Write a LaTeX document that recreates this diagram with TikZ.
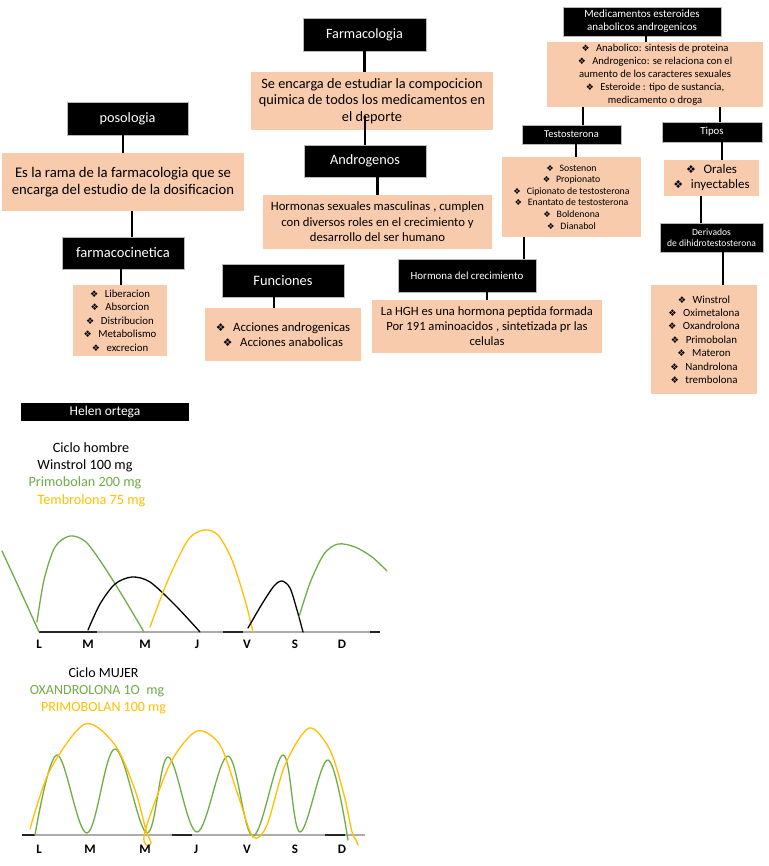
\documentclass[tikz,border=0pt]{standalone}
\usepackage{fontspec}
\setmainfont{Carlito}
\newfontfamily\symfont{DejaVu Sans}
\newcommand{\bulx}{\scalebox{0.85}{\symfont ❖}\hspace{0.6em}}
\definecolor{peach}{HTML}{F8CBAD}
\definecolor{grn}{HTML}{70AD47}
\definecolor{ylw}{HTML}{FFC000}
\newcommand{\fs}[2]{\fontsize{#1}{#2}\selectfont}
\tikzset{
  blk/.style={fill=black, draw=gray!55, line width=0.6pt, text=white, inner sep=0pt, align=center},
  pch/.style={fill=peach, inner sep=0pt, align=center},
  conn/.style={line width=2.2pt, black},
  lbl/.style={inner sep=0pt, align=center},
  axl/.style={inner sep=0pt, font=\fs{13}{14}\bfseries},
  curve/.style={line width=1.3pt, line cap=round},
  axis/.style={line width=1.2pt, gray!65},
  axisdark/.style={line width=1.2pt, gray!30!black},
}
\begin{document}
\begin{tikzpicture}[x=1pt, y=-1pt]
\useasboundingbox[fill=white] (0,0) rectangle (768,866);

% ---------- Farmacologia branch ----------
\node[blk, minimum width=123pt, minimum height=33pt, font=\fs{14.2}{15}] (farm) at (364.5,34.5) {Farmacologia};
\node[pch, minimum width=242pt, minimum height=58pt, font=\fs{14.3}{16.5}] (farmdesc) at (372,101)
  {Se encarga de estudiar la compocicion\\quimica de todos los medicamentos en\\el deporte};
\node[blk, minimum width=122pt, minimum height=32pt, font=\fs{14.3}{15}] (andro) at (365,161) {Androgenos};
\node[pch, minimum width=229pt, minimum height=54pt, font=\fs{12.7}{15.5}] (andrdesc) at (377.5,222)
  {Hormonas sexuales masculinas , cumplen\\con diversos roles en el crecimiento y\\desarrollo del ser humano};
\node[blk, minimum width=122pt, minimum height=33pt, font=\fs{14.4}{15}] (func) at (283,280.5) {Funciones};
\node[pch, minimum width=156pt, minimum height=53pt, font=\fs{12.7}{15}] (funcdesc) at (283,334.5)
  {\bulx Acciones androgenicas\\\bulx Acciones anabolicas};
\node[blk, minimum width=138pt, minimum height=33pt, font=\fs{10.9}{12}] (horm) at (467,275.5) {Hormona del crecimiento};
\node[pch, minimum width=230pt, minimum height=53pt, font=\fs{12.6}{15}] (hghdesc) at (487,326.5)
  {La HGH es una hormona peptida formada\\Por 191 aminoacidos , sintetizada pr las\\celulas};

% ---------- Medicamentos branch ----------
\node[blk, minimum width=158pt, minimum height=29pt, font=\fs{11}{13}] (med) at (642,21.5)
  {Medicamentos esteroides\\anabolicos androgenicos};
\node[pch, minimum width=216pt, minimum height=65pt, font=\fs{10.6}{13}] (meddesc) at (655,74.5)
  {\bulx Anabolico: sintesis de proteina\\\bulx Androgenico: se relaciona con el\\aumento de los caracteres sexuales\\\bulx Esteroide : tipo de sustancia,\\medicamento o droga};
\node[blk, minimum width=99pt, minimum height=19pt, font=\fs{10.5}{11}] (testo) at (571.5,134.5) {Testosterona};
\node[pch, minimum width=139pt, minimum height=80pt, font=\fs{9.8}{11.6}] (testodesc) at (571.5,197)
  {\bulx Sostenon\\\bulx Propionato\\\bulx Cipionato de testosterona\\\bulx Enantato de testosterona\\\bulx Boldenona\\\bulx Dianabol};
\node[blk, minimum width=100pt, minimum height=20pt, font=\fs{10.8}{11}] (tipos) at (712,132) {Tipos};
\node[pch, minimum width=95pt, minimum height=36pt, font=\fs{12.9}{15}] (tiposdesc) at (711.5,178)
  {\bulx Orales\\\bulx inyectables};
\node[blk, minimum width=103pt, minimum height=29pt, font=\fs{9.6}{11}] (deriv) at (711.5,237.5)
  {Derivados\\de dihidrotestosterona};
\node[pch, minimum width=106pt, minimum height=109pt, font=\fs{10.9}{13.4}] (derivdesc) at (704,339.5)
  {\bulx Winstrol\\\bulx Oximetalona\\\bulx Oxandrolona\\\bulx Primobolan\\\bulx Materon\\\bulx Nandrolona\\\bulx trembolona};

% ---------- Posologia branch ----------
\node[blk, minimum width=121pt, minimum height=33pt, font=\fs{14.3}{15}] (poso) at (127.5,118.5) {posologia};
\node[pch, minimum width=242pt, minimum height=58pt, font=\fs{14.7}{17}] (posodesc) at (123,182)
  {Es la rama de la farmacologia que se\\encarga del estudio de la dosificacion};
\node[blk, minimum width=122pt, minimum height=32pt, font=\fs{14.5}{15}] (farmaco) at (123,253) {farmacocinetica};
\node[pch, minimum width=94pt, minimum height=71pt, font=\fs{10.8}{13.4}] (farmacodesc) at (120,320.5)
  {\bulx Liberacion\\\bulx Absorcion\\\bulx Distribucion\\\bulx Metabolismo\\\bulx excrecion};

% ---------- connectors ----------
\draw[conn] (farm.south) -- (farm.south |- farmdesc.north);
\draw[conn] (andro.north) -- ([yshift=14pt]andro.north |- farmdesc.south);
\draw[conn] (andrdesc.north) -- (andrdesc.north |- andro.south);
\draw[conn] ([xshift=-9pt]func.south) -- ([xshift=-9pt]func.south |- funcdesc.north);
\draw[conn] (hghdesc.north) -- (hghdesc.north |- horm.south);
\draw[conn] ([xshift=-12pt]horm.north east) -- ([xshift=-12pt]horm.north east |- testodesc.south);
\draw[conn] ([xshift=4pt]med.south) -- ([xshift=4pt]med.south |- meddesc.north);
\draw[conn] ([xshift=11.5pt]testo.north) -- ([xshift=11.5pt]testo.north |- meddesc.south);
\draw[conn] ([xshift=4.5pt]testo.south) -- ([xshift=4.5pt]testo.south |- testodesc.north);
\draw[conn] ([xshift=8pt]tipos.north) -- ([xshift=8pt]tipos.north |- meddesc.south);
\draw[conn] ([xshift=10pt]tipos.south) -- ([xshift=10pt]tipos.south |- tiposdesc.north);
\draw[conn] ([xshift=-10.5pt]deriv.north) -- ([xshift=-10.5pt]deriv.north |- tiposdesc.south);
\draw[conn] ([xshift=11.5pt]deriv.south) -- ([xshift=11.5pt]deriv.south |- derivdesc.north);
\draw[conn] ([xshift=-4.5pt]poso.south) -- ([xshift=-4.5pt]poso.south |- posodesc.north);
\draw[conn] ([xshift=9pt]farmaco.north) -- ([xshift=9pt]farmaco.north |- posodesc.south);
\draw[conn] ([xshift=-2pt]farmaco.south) -- ([xshift=-2pt]farmaco.south |- farmacodesc.north);

% ---------- Helen ortega ----------
\node[blk, draw=none, minimum width=168pt, minimum height=18pt, font=\fs{13.5}{14}] (helen) at (105,412) {Helen ortega};

% ---------- Chart 1 ----------
\node[lbl, font=\fs{14.2}{15}] (c1t) at (91,448) {Ciclo hombre};
\node[lbl, font=\fs{14.2}{15}] (c1a) at (85,466) {Winstrol 100 mg};
\node[lbl, font=\fs{14.2}{15}, text=grn] (c1b) at (85,483) {Primobolan 200 mg};
\node[lbl, font=\fs{14.2}{15}, text=ylw] (c1c) at (91.5,501) {Tembrolona 75 mg};

\draw[axis] (39,632) -- (380,632);
\draw[axisdark] (39,632) -- (97,632);
\draw[axisdark] (223,632) -- (243,632);
\draw[axisdark] (370,632) -- (380,632);

\draw[curve, grn] plot[smooth] coordinates {(2,551) (20,590) (39,632)};
\draw[curve, grn] plot[smooth] coordinates {(37,622) (44,580) (55,547) (70,536) (86,542) (105,568) (125,600) (144,632)};
\draw[curve, black] plot[smooth] coordinates {(88,630) (100,604) (115,584) (132,577) (150,582) (175,605) (200,632)};
\draw[curve, ylw] plot[smooth] coordinates {(150,627) (168,580) (188,540) (204,530) (218,535) (232,560) (245,600) (253,632)};
\draw[curve, black] plot[smooth] coordinates {(248,628) (262,604) (274,586) (282,581) (290,588) (297,610) (303,632)};
\draw[curve, grn] plot[smooth] coordinates {(299,617) (310,583) (324,554) (338,544) (355,547) (372,557) (387,571)};

\node[axl] (a1) at (39,644) {L};
\node[axl] (a2) at (88,644) {M};
\node[axl] (a3) at (145,644) {M};
\node[axl] (a4) at (197,644) {J};
\node[axl] (a5) at (247,644) {V};
\node[axl] (a6) at (295,644) {S};
\node[axl] (a7) at (342,644) {D};

% ---------- Chart 2 ----------
\node[lbl, font=\fs{14}{15}] (c2t) at (103.5,673) {Ciclo MUJER};
\node[lbl, font=\fs{14}{15}, text=grn] (c2a) at (97,691) {OXANDROLONA 1O~~mg};
\node[lbl, font=\fs{14}{15}, text=ylw] (c2b) at (103.5,708) {PRIMOBOLAN 100 mg};

\draw[axis] (22,835) -- (365,835);
\draw[axisdark] (22,835) -- (35,835);
\draw[axisdark] (172,835) -- (192,835);
\draw[axisdark] (325,835) -- (345,835);

\draw[curve, grn] plot[smooth, tension=0.6] coordinates {(35,835) (57,755) (87,833) (115,749) (147,833) (168,757) (197,832) (228,756) (253,836) (283,755) (300,832) (328,760) (348,840)};
\draw[curve, ylw] plot[smooth] coordinates {(30,829) (50,770) (85,724) (115,745) (135,790) (146,830) (151,843) (146,845) (144,836) (152,810) (172,760) (197,731) (220,745) (238,795) (253,837) (267,825) (285,765) (309,728) (330,750) (344,795) (352,832) (356,840) (358,845)};

\node[axl] (b1) at (39,849) {L};
\node[axl] (b2) at (90,849) {M};
\node[axl] (b3) at (145,849) {M};
\node[axl] (b4) at (196,849) {J};
\node[axl] (b5) at (247,849) {V};
\node[axl] (b6) at (295,849) {S};
\node[axl] (b7) at (342,849) {D};
\end{tikzpicture}
\end{document}
